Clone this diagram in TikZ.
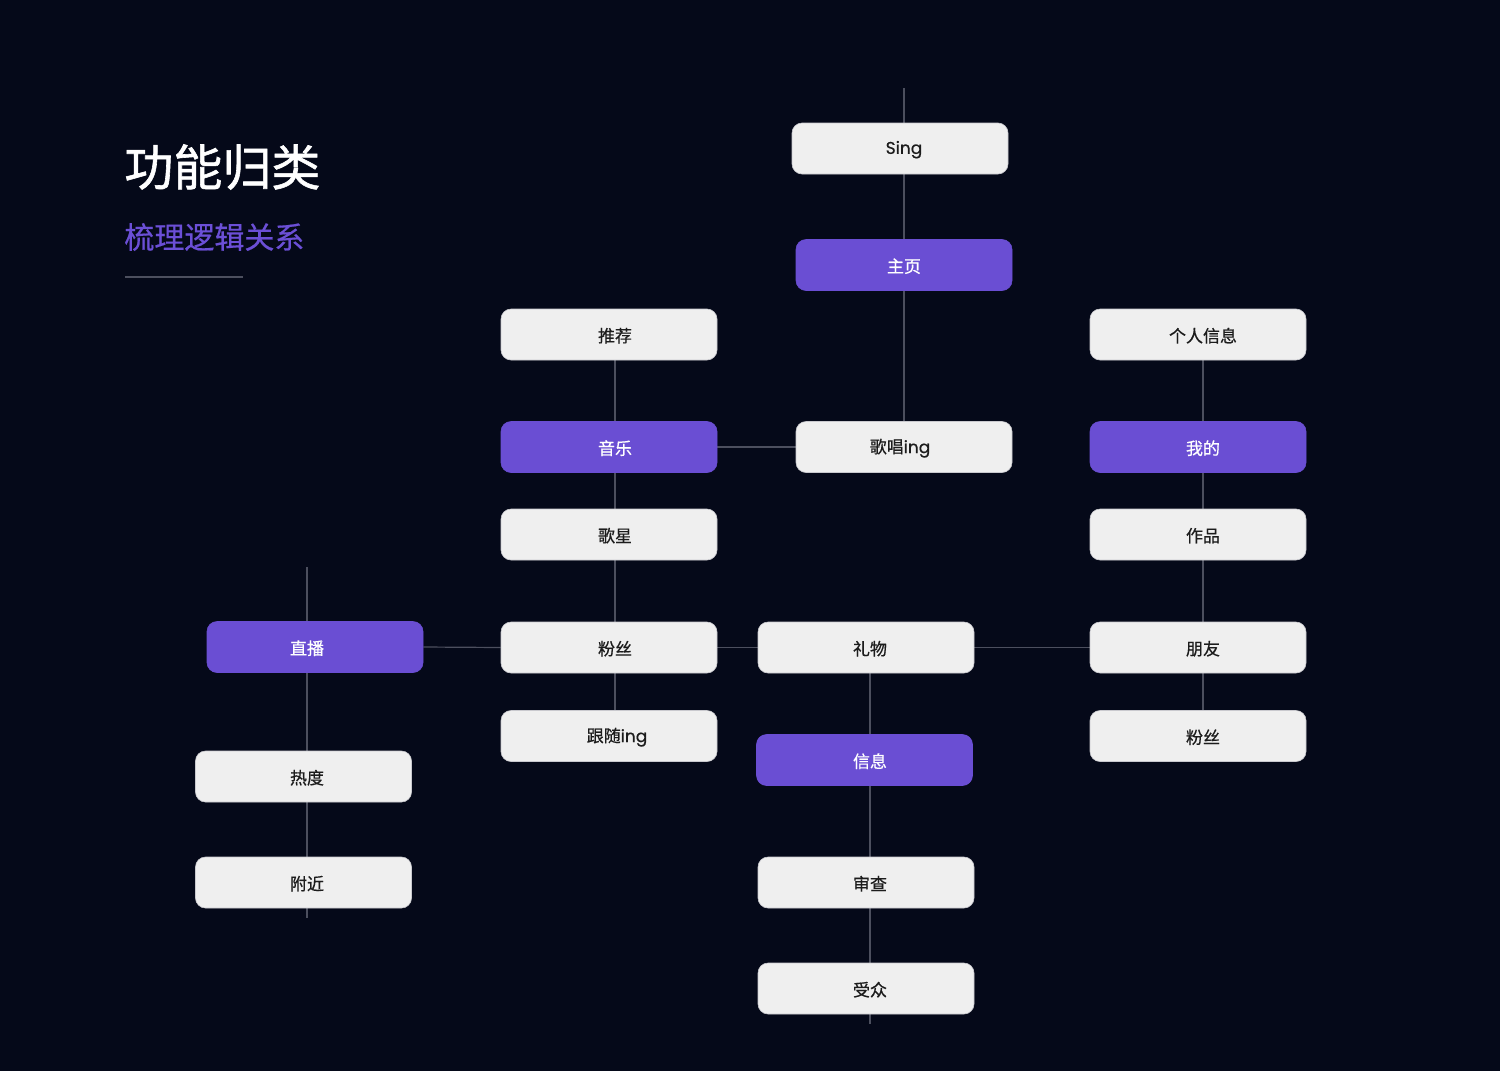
\documentclass[tikz,border=0pt]{standalone}
\usepackage{fontspec}
\setmainfont[FakeBold=0.5]{Poppins}
\newfontfamily\cjk[FakeBold=0.6]{Noto Sans CJK SC}
\newfontfamily\cjkt[FakeBold=1.2]{Noto Sans CJK SC}
\usetikzlibrary{backgrounds}
\definecolor{bgc}{HTML}{050919}
\definecolor{boxc}{HTML}{EFEFEF}
\definecolor{boxedge}{HTML}{C9C9CE}
\definecolor{purp}{HTML}{6A4ED3}
\definecolor{linec}{HTML}{4C4F5E}
\definecolor{txtc}{HTML}{1C1C1C}
\definecolor{subc}{HTML}{6B4FD6}
\tikzset{
  wbox/.style={rectangle, rounded corners=5pt, fill=boxc, draw=boxedge, line width=0.3pt,
    minimum width=108pt, minimum height=25.5pt, inner sep=0pt, text=txtc, font=\fontsize{8.5pt}{10pt}\selectfont},
  pbox/.style={wbox, fill=purp, draw=purp, text=white},
  conn/.style={draw=linec, line width=0.6pt},
  lbl/.style={inner sep=0pt, yshift=-0.6pt, font=\fontsize{8.5pt}{10pt}\selectfont}
}
\begin{document}
\begin{tikzpicture}[x=0.5pt,y=-0.5pt]
\useasboundingbox (0,0) rectangle (1500,1071);

% title
\node[anchor=west, text=white, inner sep=0pt, font=\cjkt\fontsize{24.5pt}{28pt}\selectfont] (title) at (124,167) {功能归类};
\node[anchor=west, text=subc, inner sep=0pt, font=\cjk\fontsize{15pt}{17pt}\selectfont] (sub) at (124,237) {梳理逻辑关系};
\coordinate (r1) at (125,277);
\coordinate (r2) at (243,277);
\draw[draw=linec, line width=0.8pt] (r1) -- (r2);

% column coordinates
\coordinate (cA) at (307,0);
\coordinate (cB) at (615,0);
\coordinate (cC) at (870,0);
\coordinate (cD) at (904,0);
\coordinate (cE) at (1203,0);

% nodes
\node[wbox] (sing) at (900,148.5) {};
\node[pbox] (zhuye) at (904,265) {};
\node[wbox] (tuijian) at (609,334.5) {};
\node[pbox] (yinyue) at (609,447) {};
\node[wbox] (gechang) at (904,447) {};
\node[wbox] (geren) at (1198,334.5) {};
\node[pbox] (wode) at (1198,447) {};
\node[wbox] (gexing) at (609,534.5) {};
\node[wbox] (zuopin) at (1198,534.5) {};
\node[pbox] (zhibo) at (315,647) {};
\node[wbox] (fensiA) at (609,647.5) {};
\node[wbox] (liwu) at (866,647.5) {};
\node[wbox] (pengyou) at (1198,647.5) {};
\node[wbox] (gensui) at (609,736) {};
\node[wbox] (fensiB) at (1198,736) {};
\node[pbox] (xinxi) at (864.5,760) {};
\node[wbox] (redu) at (303.5,776.5) {};
\node[wbox] (fujin) at (303.5,882.5) {};
\node[wbox] (shencha) at (866,882.5) {};
\node[wbox] (shouzhong) at (866,988.5) {};

% labels centred on the connector lines
\node[lbl, text=txtc] (tsing) at (sing.center -| cD) {Sing};
\node[lbl, text=white] (tzhuye) at (zhuye.center -| cD) {\cjk 主页};
\node[lbl, text=txtc] (ttuijian) at (tuijian.center -| cB) {\cjk 推荐};
\node[lbl, text=white] (tyinyue) at (yinyue.center -| cB) {\cjk 音乐};
\node[lbl, text=txtc] (tgechang) at ([xshift=-2]gechang.center) {{\cjk 歌唱}ing};
\node[lbl, text=txtc] (tgeren) at (geren.center -| cE) {\cjk 个人信息};
\node[lbl, text=white] (twode) at (wode.center -| cE) {\cjk 我的};
\node[lbl, text=txtc] (tgexing) at (gexing.center -| cB) {\cjk 歌星};
\node[lbl, text=txtc] (tzuopin) at (zuopin.center -| cE) {\cjk 作品};
\node[lbl, text=white] (tzhibo) at (zhibo.center -| cA) {\cjk 直播};
\node[lbl, text=txtc] (tfensiA) at (fensiA.center -| cB) {\cjk 粉丝};
\node[lbl, text=txtc] (tliwu) at (liwu.center -| cC) {\cjk 礼物};
\node[lbl, text=txtc] (tpengyou) at (pengyou.center -| cE) {\cjk 朋友};
\node[lbl, text=txtc] (tgensui) at ([xshift=4]gensui.center) {{\cjk 跟随}ing};
\node[lbl, text=txtc] (tfensiB) at (fensiB.center -| cE) {\cjk 粉丝};
\node[lbl, text=white] (txinxi) at (xinxi.center -| cC) {\cjk 信息};
\node[lbl, text=txtc] (tredu) at (redu.center -| cA) {\cjk 热度};
\node[lbl, text=txtc] (tfujin) at (fujin.center -| cA) {\cjk 附近};
\node[lbl, text=txtc] (tshencha) at (shencha.center -| cC) {\cjk 审查};
\node[lbl, text=txtc] (tshouzhong) at (shouzhong.center -| cC) {\cjk 受众};

% free ends
\coordinate (topD) at (904,88);
\coordinate (topA) at (307,567);
\coordinate (botA) at (307,918);
\coordinate (botC) at (870,1024);

\begin{scope}[on background layer]
\fill[bgc] (0,0) rectangle (1500,1071);
\draw[conn] (topD) -- (gechang.north -| cD);
\draw[conn] (tuijian.south -| cB) -- (gensui.north -| cB);
\draw[conn] (geren.south -| cE) -- (fensiB.north -| cE);
\draw[conn] (topA) -- (botA);
\draw[conn] (liwu.south -| cC) -- (botC);
\draw[conn] (yinyue.east) -- (gechang.west);
\draw[conn] (zhibo.east) -- (fensiA.west);
\draw[conn] (fensiA.east) -- (liwu.west);
\draw[conn] (liwu.east) -- (pengyou.west);
\end{scope}
\end{tikzpicture}
\end{document}
